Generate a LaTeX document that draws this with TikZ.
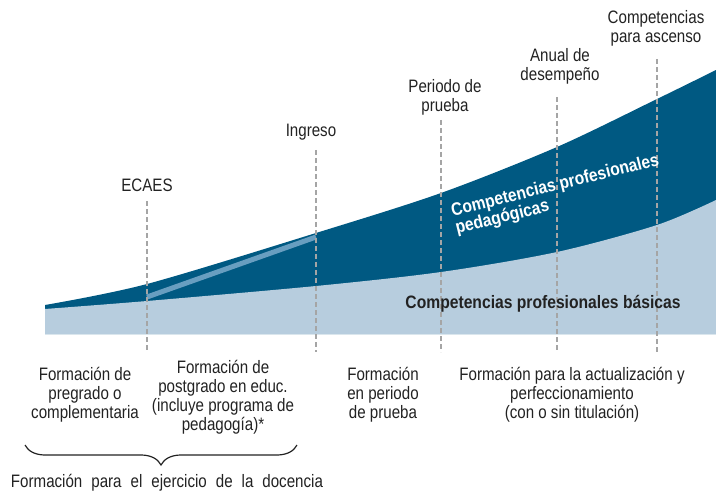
\documentclass[tikz,border=0pt]{standalone}
\usepackage{fontspec}
\setmainfont{Liberation Sans}[FakeStretch=0.84]
\newfontfamily\bandfont{Liberation Sans}[FakeStretch=0.87]
\usetikzlibrary{positioning,decorations.pathreplacing}
\definecolor{darkblue}{RGB}{0,89,130}
\definecolor{lightblue}{RGB}{183,205,222}
\definecolor{stripeblue}{RGB}{104,158,192}
\definecolor{guidegray}{RGB}{165,165,165}
\definecolor{textgray}{RGB}{34,34,34}

\begin{document}
\begin{tikzpicture}[x=1pt,y=-1pt,
	txt/.style={align=center,inner sep=0pt,text=textgray,font=\fontsize{18}{19}\selectfont},
	band/.style={inner sep=0pt,font=\bandfont\bfseries\fontsize{18}{18}\selectfont},
	guide/.style={draw=guidegray,line width=1.5pt,dash pattern=on 5pt off 3pt}]
	\useasboundingbox (0,0) rectangle (716,495);
	
	% bands
	\fill[darkblue] (45,334) -- plot[smooth] coordinates {(45,305) (147,284) (316,233) (441,193) (557,147) (657,99) (716,70)} -- (716,334) -- cycle;
	\fill[lightblue] (45,334) -- plot[smooth] coordinates {(45,309) (147,301) (316,286) (441,272) (557,252) (657,225) (716,200)} -- (716,334) -- cycle;
	
	% stripe
	\coordinate (s1) at (147,297);
	\coordinate (s2) at (316,237);
	\path [stripeblue,line width=5pt] (s1) edge (s2);
	
	% guides
	\coordinate (1t) at (147,201); \coordinate (1b) at (147,352);
	\coordinate (2t) at (316,150); \coordinate (2b) at (316,352);
	\coordinate (3t) at (441,120); \coordinate (3b) at (441,352);
	\coordinate (4t) at (557,97);  \coordinate (4b) at (557,352);
	\coordinate (5t) at (657,59);  \coordinate (5b) at (657,352);
	
	\path [guide] (1t) edge (1b);
	\path [guide] (2t) edge (2b);
	\path [guide] (3t) edge (3b);
	\path [guide] (4t) edge (4b);
	\path [guide] (5t) edge (5b);
	
	% top labels (base = last line)
	\node[txt,anchor=base] (ecaes) at (147,191) {ECAES};
	\node[txt,anchor=base] (ingreso) at (311,137) {Ingreso};
	\node[txt,anchor=base] (prueba) at (445,112) {Periodo de\\prueba};
	\node[txt,anchor=base] (anual) at (560,81) {Anual de\\desempeño};
	\node[txt,anchor=base] (ascenso) at (656,43) {Competencias\\para ascenso};
	
	% band labels
	\node[band,white,rotate=14,anchor=base west,align=left] (pedag) at (457,234) {Competencias profesionales\\pedagógicas};
	\node[band,text=textgray,anchor=base] (basicas) at (543,308) {Competencias profesionales básicas};
	
	% bottom labels
	\node[txt,anchor=base] (pregrado) at (85,418) {Formación de\\pregrado o\\complementaria};
	\node[txt,anchor=base] (postgrado) at (223,430) {Formación de\\postgrado en educ.\\(incluye programa de\\pedagogía)*};
	\node[txt,anchor=base] (periodo) at (383,418) {Formación\\en periodo\\de prueba};
	\node[txt,anchor=base] (actual) at (572,418) {Formación para la actualización y\\perfeccionamiento\\(con o sin titulación)};
	
	% brace
	\coordinate (b1) at (25,445);
	\coordinate (b2) at (297,445);
	\draw[decorate,decoration={brace,mirror,amplitude=20pt},line width=1.2pt,textgray] (b1) -- (b2);
	\node[txt,anchor=base] (docencia) at (167,487) {\spaceskip=9pt Formación para el ejercicio de la docencia};
\end{tikzpicture}
\end{document}
